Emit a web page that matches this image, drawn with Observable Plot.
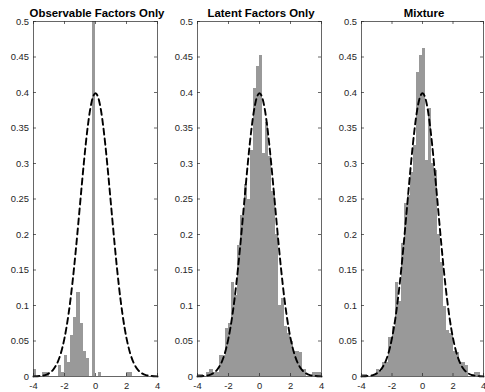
<!DOCTYPE html>
<html>
<head>
<meta charset="utf-8">
<script src="https://cdn.jsdelivr.net/npm/d3@7"></script>
<script src="https://cdn.jsdelivr.net/npm/@observablehq/plot@0.6"></script>
<style>
  html, body { margin: 0; padding: 0; background: white; }
  #chart { position: relative; width: 485px; height: 392px; overflow: hidden; }
  #chart > svg { position: absolute; top: 0; }
  #chart svg, #chart svg text { font-family: "Liberation Sans", Arial, Helvetica, sans-serif !important; }
  #chart svg .panel-title text { font-size: 11.4px !important; font-weight: bold; }
</style>
</head>
<body>
<div id="chart"></div>
<script>
// Panel titles
const titles = ["Observable Factors Only", "Latent Factors Only", "Mixture"];

// Histogram bins: 40 bins of width 0.2 starting at -4
const binWidth = 0.2;
const binStarts = d3.range(40).map(i => -4 + i * binWidth);

// Normalized histogram heights (pdf)
const observableOnly = [0.01,0,0,0.005,0.005,0,0,0,0.015,0.005,
                        0.03,0.02,0.058,0.083,0.118,0.075,0.035,0.025,0,2.0,
                        0,0.005,0,0,0,0,0,0,0,0,
                        0.005,0.005,0,0,0,0,0,0,0,0];
const latentOnly = [0.003,0.003,0,0.005,0.01,0.005,0.005,0.03,0.03,0.068,
                    0.075,0.133,0.114,0.185,0.227,0.27,0.25,0.318,0.405,0.437,
                    0.452,0.314,0.358,0.31,0.26,0.2,0.1,0.11,0.07,0.06,
                    0.05,0.035,0.035,0.034,0.01,0,0,0.005,0.005,0.005];
const mixture = [0.003,0.003,0,0,0.003,0.01,0.007,0.02,0.02,0.055,
                 0.07,0.133,0.105,0.187,0.244,0.255,0.288,0.325,0.428,0.452,
                 0.462,0.304,0.378,0.3,0.29,0.2,0.16,0.098,0.065,0.06,
                 0.035,0.034,0.02,0.02,0.015,0,0.003,0.005,0.005,0];

// Standard normal reference density (dashed line)
const densityX = [-4,-3.75,-3.5,-3.25,-3,-2.75,-2.5,-2.25,-2,-1.75,-1.5,-1.25,-1,-0.75,-0.5,-0.25,
                  0,0.25,0.5,0.75,1,1.25,1.5,1.75,2,2.25,2.5,2.75,3,3.25,3.5,3.75,4];
const densityY = [0.0001,0.0004,0.0009,0.0020,0.0044,0.0091,0.0175,0.0317,0.0540,0.0863,0.1295,0.1826,0.2420,0.3011,0.3521,0.3867,
                  0.3989,0.3867,0.3521,0.3011,0.2420,0.1826,0.1295,0.0863,0.0540,0.0317,0.0175,0.0091,0.0044,0.0020,0.0009,0.0004,0.0001];

// Tick values
const xTicks = [-4, -2, 0, 2, 4];
const yTicks = [0, 0.05, 0.1, 0.15, 0.2, 0.25, 0.3, 0.35, 0.4, 0.45, 0.5];

const H = 392, MT = 21, MB = 16;
const axisColor = "#262626";
const fontFamily = "Liberation Sans, Arial, Helvetica, sans-serif";

function panel(title, values, left, width, marginLeft, marginRight) {
  const plotW = width - marginLeft - marginRight;
  const plotH = H - MT - MB;
  const tickLen = 3;
  const bars = binStarts.map((x0, i) => ({x1: x0, x2: x0 + binWidth, y: values[i]}));
  const curve = densityX.map((x, i) => ({x, y: densityY[i]}));
  const svg = Plot.plot({
    width, height: H,
    marginTop: MT, marginBottom: MB, marginLeft, marginRight,
    style: {background: "transparent", overflow: "visible", fontFamily, fontSize: "9.4px", color: axisColor},
    x: {domain: [-4, 4], label: null},
    y: {domain: [0, 0.5], label: null},
    marks: [
      Plot.rectY(bars, {x1: "x1", x2: "x2", y: "y", fill: "#999999", shapeRendering: "crispEdges", clip: true}),
      Plot.line(curve, {x: "x", y: "y", stroke: "black", strokeWidth: 1.9, strokeDasharray: "6,4", curve: "natural"}),
      Plot.frame({stroke: axisColor, strokeWidth: 0.7}),
      Plot.tickY(yTicks, {y: d => d, insetRight: plotW - tickLen, stroke: axisColor, strokeWidth: 0.7}),
      Plot.tickY(yTicks, {y: d => d, insetLeft: plotW - tickLen, stroke: axisColor, strokeWidth: 0.7}),
      Plot.tickX(xTicks, {x: d => d, insetTop: plotH - tickLen, stroke: axisColor, strokeWidth: 0.7}),
      Plot.tickX(xTicks, {x: d => d, insetBottom: plotH - tickLen, stroke: axisColor, strokeWidth: 0.7}),
      Plot.axisX({ticks: xTicks, tickSize: 0, tickPadding: 6, tickFormat: d => String(d)}),
      Plot.axisY({ticks: yTicks, tickSize: 0, tickPadding: 4.5, tickFormat: d => String(+d.toFixed(2))}),
      Plot.text([title], {text: d => d, frameAnchor: "top", dx: 1.5, dy: -4.5, lineAnchor: "bottom",
                          fontWeight: "bold", fontSize: "11.4px", fill: "black", className: "panel-title"})
    ]
  });
  svg.style.left = left + "px";
  return svg;
}

const chart = document.getElementById("chart");
chart.appendChild(panel(titles[0], observableOnly, 0, 162, 33, 5));
chart.appendChild(panel(titles[1], latentOnly, 162, 162, 35, 3));
chart.appendChild(panel(titles[2], mixture, 324, 161, 37, 2));
</script>
</body>
</html>
